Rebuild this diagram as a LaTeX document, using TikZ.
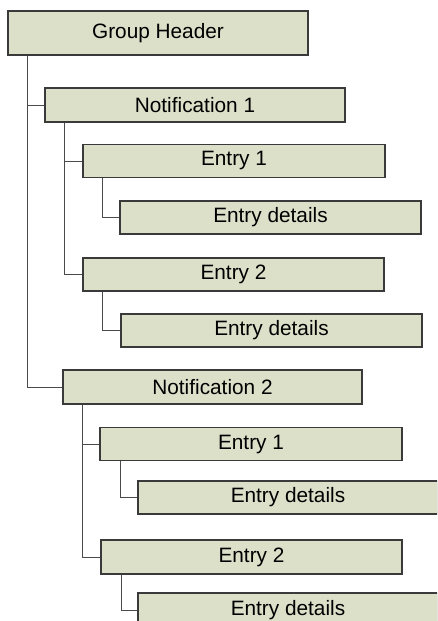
\documentclass[tikz,border=0pt]{standalone}
\usepackage{fontspec}
\setmainfont{Liberation Sans}
\definecolor{boxfill}{HTML}{DCE0C9}
\definecolor{boxline}{HTML}{3A3A3A}
\definecolor{conn}{HTML}{4A4A4A}
\begin{document}
\begin{tikzpicture}[x=1pt,y=-1pt,
  itembox/.style={draw=boxline, fill=boxfill, line width=1.1pt, minimum width=300pt, minimum height=33pt, inner sep=0pt, font=\fontsize{20.8}{22}\selectfont},
  link/.style={draw=conn, line width=1pt}]
\useasboundingbox (0,0) rectangle (437,621);
\clip (0,0) rectangle (437,621);
\node[itembox, minimum height=44pt] (gh) at (158,33) {Group Header};
\node[itembox, minimum height=34pt] (n1) at (195,105) {Notification 1};
\node[itembox, minimum width=302pt] (e1a) at (234,161) {Entry 1};
\node[itembox, minimum width=301pt] (d1a) at (270.5,217.5) {Entry details};
\node[itembox, minimum width=301pt] (e2a) at (233.5,274.5) {Entry 2};
\node[itembox, minimum width=301pt] (d2a) at (271.5,330.5) {Entry details};
\node[itembox, minimum width=299pt, minimum height=34pt] (n2) at (212.5,387) {Notification 2};
\node[itembox, minimum width=302pt] (e1b) at (251,444) {Entry 1};
\node[itembox] (d1b) at (288,497.5) {Entry details};
\node[itembox, minimum width=301pt, minimum height=34pt] (e2b) at (251.5,557) {Entry 2};
\node[itembox, minimum height=34pt] (d2b) at (288,610) {Entry details};
\draw[link] ([xshift=20pt]gh.south west) |- (n1.west);
\draw[link] ([xshift=20pt]gh.south west) |- (n2.west);
\draw[link] ([xshift=20pt]n1.south west) |- (e1a.west);
\draw[link] ([xshift=20pt]n1.south west) |- (e2a.west);
\draw[link] ([xshift=20pt]e1a.south west) |- (d1a.west);
\draw[link] ([xshift=20pt]e2a.south west) |- (d2a.west);
\draw[link] ([xshift=20pt]n2.south west) |- (e1b.west);
\draw[link] ([xshift=20pt]n2.south west) |- (e2b.west);
\draw[link] ([xshift=21pt]e1b.south west) |- (d1b.west);
\draw[link] ([xshift=21pt]e2b.south west) |- (d2b.west);
\end{tikzpicture}
\end{document}
